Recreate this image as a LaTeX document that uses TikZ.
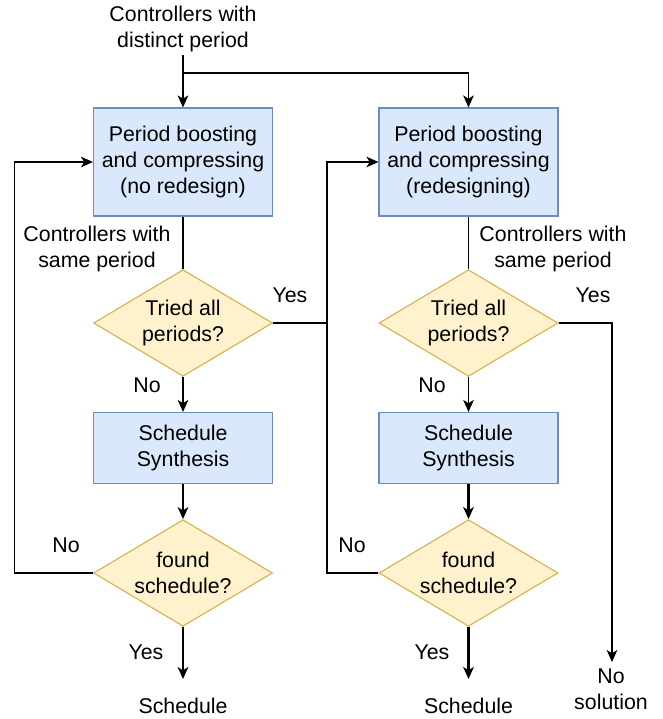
\documentclass[tikz,border=0pt]{standalone}
\usepackage{fontspec}
\setmainfont{Liberation Sans}
\usetikzlibrary{arrows.meta,shapes.geometric}
\definecolor{bfill}{HTML}{DAE8FC}
\definecolor{bline}{HTML}{6C8EBF}
\definecolor{yfill}{HTML}{FFF2CC}
\definecolor{yline}{HTML}{D6B656}
\tikzset{
  txt/.style={font={\fontsize{16}{19.5}\selectfont}, align=center, inner sep=0pt},
  procbox/.style={txt, draw=bline, fill=bfill, line width=0.9pt, minimum width=134.25pt, minimum height=81pt},
  synbox/.style={procbox, minimum height=53.25pt},
  decide/.style={txt, diamond, aspect=1.67, draw=yline, fill=yfill, line width=0.9pt, minimum width=134.25pt, minimum height=80pt},
  conn/.style={line width=1pt, draw=black},
  arr/.style={conn, -{Stealth[length=9pt,width=8pt,inset=2.5pt]}},
  tarr/.style={arr, line width=1.6pt},
}
\begin{document}
\begin{tikzpicture}[x=0.75pt,y=-0.75pt]
\useasboundingbox (0,0) rectangle (662,719);
% nodes
\node[txt] (ctrl) at (183,28.5) {Controllers with\\distinct period};
\node[procbox] (b1) at (183,162) {Period boosting\\and compressing\\(no redesign)};
\node[procbox] (b2) at (468.5,162) {Period boosting\\and compressing\\(redesigning)};
\node[txt] (l1) at (97,248.5) {Controllers with\\same period};
\node[txt] (l2) at (553,248.5) {Controllers with\\same period};
\node[decide] (d1) at (183,323) {Tried all\\periods?};
\node[decide] (d2) at (468.5,323) {Tried all\\periods?};
\node[synbox] (s1) at (183,448) {Schedule\\Synthesis};
\node[synbox] (s2) at (468.5,448) {Schedule\\Synthesis};
\node[decide] (f1) at (183,573) {found\\schedule?};
\node[decide] (f2) at (468.5,573) {found\\schedule?};
\node[txt] (y1) at (290,295) {Yes};
\node[txt] (y2) at (593,295) {Yes};
\node[txt] (n1) at (147,385) {No};
\node[txt] (n2) at (432,385) {No};
\node[txt] (n3) at (66,545) {No};
\node[txt] (n4) at (352,545) {No};
\node[txt] (y3) at (146,652) {Yes};
\node[txt] (y4) at (432,652) {Yes};
\node[txt] (o1) at (183,706) {Schedule};
\node[txt] (o2) at (468.5,706) {Schedule};
\node[txt] (o3) at (611,689) {No\\solution};
% coordinates
\coordinate (top) at (183,55);
\coordinate (split) at (183,73);
\coordinate (midx) at (327,323);
\coordinate (leftx) at (14.5,573);
\coordinate (e1) at (183,679);
\coordinate (e2) at (468.5,679);
\coordinate (e3) at (612,662);
% connectors
\draw[arr] (top) -- (b1.north);
\draw[arr] (split) -| (b2.north);
\draw[conn] (b1.south) -- (d1.north);
\draw[conn] (b2.south) -- (d2.north);
\draw[arr] (d1.east) -- (midx) |- (b2.west);
\draw[arr] (d1.south) -- (s1.north);
\draw[arr] (d2.south) -- (s2.north);
\draw[tarr] (s1.south) -- (f1.north);
\draw[tarr] (s2.south) -- (f2.north);
\draw[arr] (f1.west) -- (leftx) |- (b1.west);
\draw[conn] (f2.west) -| (midx);
\draw[arr] (d2.east) -| (e3);
\draw[tarr] (f1.south) -- (e1);
\draw[tarr] (f2.south) -- (e2);
\end{tikzpicture}
\end{document}
